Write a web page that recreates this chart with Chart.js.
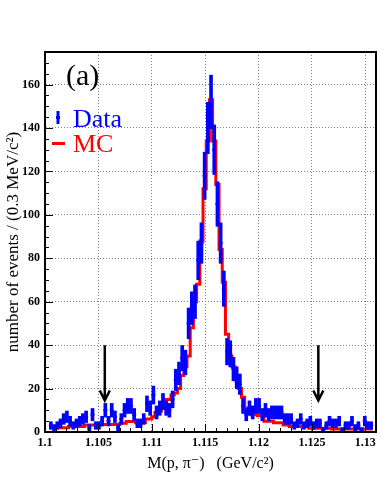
<!DOCTYPE html>
<html>
<head>
<meta charset="utf-8">
<script src="https://cdn.jsdelivr.net/npm/chart.js@4.4.0/dist/chart.umd.min.js"></script>
<style>
  html, body { margin: 0; padding: 0; background: #fff; }
  #wrap { width: 382px; height: 494px; }
</style>
</head>
<body>
<div id="wrap"><canvas id="lambdaMass" width="382" height="494"></canvas></div>
<script>
// histogram binning (GeV/c^2), 0.3 MeV/c^2 per bin
const binStart = 1.1004;
const binWidth = 0.0003;

// data events per bin
const dataCounts = [
  3, 2, 3, 4, 6, 7, 5, 3, 4, 5,
  6, 7, 2, 8, 3, 3, 5, 10, 5, 10,
  7, 2, 6, 10, 12, 12, 8, 4, 4, 6,
  13, 11, 17, 9, 11, 14, 11, 10, 15, 24,
  27, 34, 32, 50, 57, 60, 79, 87, 118, 140,
  152, 130, 105, 87, 66, 37, 36, 29, 25, 22,
  12, 8, 11, 9, 12, 12, 8, 10, 8, 9,
  9, 9, 9, 6, 6, 6, 3, 4, 6, 3,
  4, 5, 3, 4, 4, 1, 3, 5, 4, 4,
  5, 1, 3, 3, 5, 2, 3, 1, 5, 3, 3
];

// MC (normalised) per bin
const mcCounts = [
  2, 2, 2, 2, 2, 2, 2.5, 2.5, 2.5, 2.5,
  2.5, 3.2, 3.2, 3.2, 3.2, 3.2, 3.5, 3.5, 3.5, 3.5,
  3.5, 3.5, 4, 4, 4.8, 4.8, 4.8, 4.3, 4.3, 4.3,
  6, 6, 7, 9, 9.5, 11, 15, 15, 17, 18,
  20, 26, 30, 35, 48, 60, 68, 88, 112, 134,
  153, 134, 114, 84, 69, 45, 35, 30, 24, 20,
  16, 11, 9, 8, 8, 7.5, 7.5, 5, 5, 5,
  4.3, 4.3, 4.3, 3.2, 3.2, 2.5, 2.5, 2.5, 2.5, 2.5,
  2.5, 1.7, 1.7, 1.7, 1.7, 1.7, 1.7, 1.7, 1.4, 1.4,
  1.4, 1.4, 1.4, 1.4, 1.4, 1.4, 1.4, 1.4, 1.4, 1.4, 1.4
];

const xTicks = [1.1, 1.105, 1.11, 1.115, 1.12, 1.125, 1.13];
const yTicks = [0, 20, 40, 60, 80, 100, 120, 140, 160];
const cutArrows = [1.1056, 1.1256]; // sideband limits shown by the arrows

const binCenters = dataCounts.map((_, i) => binStart + binWidth * (i + 0.5));

// step histogram for the MC: one point per left edge, plus the last right edge
const mcSteps = mcCounts.map((v, i) => ({ x: binStart + binWidth * i, y: v }));
mcSteps.push({ x: binStart + binWidth * mcCounts.length, y: mcCounts[mcCounts.length - 1] });

// data: vertical error bars (sqrt N) and a short horizontal marker
const dataErrors = dataCounts.map((n, i) => ({ x: binCenters[i], y: [n - Math.sqrt(n), n + Math.sqrt(n)] }));
const dataPoints = dataCounts.map((n, i) => ({ x: binCenters[i], y: n }));

const serif = '"Liberation Serif", "DejaVu Serif", serif';

// ROOT style frame, inner ticks, legend, label and arrows
const rootDecor = {
  id: 'rootDecor',
  afterDraw(chart) {
    const { ctx, chartArea: a, scales: { x, y } } = chart;
    ctx.save();

    // arrows
    ctx.strokeStyle = '#000';
    ctx.lineWidth = 2.5;
    cutArrows.forEach(v => {
      const px = x.getPixelForValue(v);
      const top = y.getPixelForValue(40);
      const tip = y.getPixelForValue(14.5);
      ctx.beginPath();
      ctx.moveTo(px, top);
      ctx.lineTo(px, tip);
      ctx.moveTo(px - 5, tip - 10);
      ctx.lineTo(px, tip);
      ctx.lineTo(px + 5, tip - 10);
      ctx.stroke();
    });

    // ticks inside the frame
    ctx.lineWidth = 1;
    ctx.beginPath();
    for (let v = 5; v < 175; v += 5) {
      const py = Math.round(y.getPixelForValue(v)) + 0.5;
      const len = v % 20 === 0 ? 8 : 4;
      ctx.moveTo(a.left, py);
      ctx.lineTo(a.left + len, py);
    }
    for (let k = 1; k <= 31; k++) {
      const px = Math.round(x.getPixelForValue(1.1 + k * 0.001)) + 0.5;
      const len = k % 5 === 0 ? 8 : 4;
      ctx.moveTo(px, a.bottom);
      ctx.lineTo(px, a.bottom - len);
    }
    ctx.stroke();

    // frame
    ctx.lineWidth = 2;
    ctx.strokeRect(a.left, a.top, a.right - a.left, a.bottom - a.top);

    // panel label
    ctx.fillStyle = '#000';
    ctx.font = '30px ' + serif;
    ctx.textBaseline = 'alphabetic';
    ctx.fillText('(a)', 66, 85);

    // legend
    ctx.strokeStyle = '#0000ff';
    ctx.lineWidth = 3;
    ctx.beginPath();
    ctx.moveTo(58, 111); ctx.lineTo(58, 124);
    ctx.moveTo(56, 117.5); ctx.lineTo(60, 117.5);
    ctx.stroke();
    ctx.fillStyle = '#0000ff';
    ctx.font = '26px ' + serif;
    ctx.fillText('Data', 73, 127);

    ctx.strokeStyle = '#ff0000';
    ctx.beginPath();
    ctx.moveTo(52, 143.5); ctx.lineTo(65, 143.5);
    ctx.stroke();
    ctx.fillStyle = '#ff0000';
    ctx.fillText('MC', 73, 152);

    ctx.restore();
  }
};

new Chart(document.getElementById('lambdaMass'), {
  type: 'bar',
  data: {
    datasets: [
      {
        type: 'line',
        label: 'Data',
        data: dataPoints,
        showLine: false,
        pointStyle: 'line',
        pointRadius: 2,
        pointBorderWidth: 2,
        borderColor: '#0000ff',
        backgroundColor: '#0000ff',
        order: 0,
      },
      {
        type: 'bar',
        label: 'Data errors',
        data: dataErrors,
        backgroundColor: '#0000ff',
        borderWidth: 0,
        barThickness: 3,
        order: 1,
      },
      {
        type: 'line',
        label: 'MC',
        data: mcSteps,
        stepped: true,
        borderColor: '#ff0000',
        borderWidth: 3,
        pointRadius: 0,
        fill: false,
        order: 2,
      },
    ],
  },
  options: {
    responsive: false,
    animation: false,
    events: [],
    layout: { padding: { top: 52, right: 2, left: 0, bottom: 0 } },
    plugins: {
      legend: { display: false },
      tooltip: { enabled: false },
    },
    scales: {
      x: {
        type: 'linear',
        min: 1.1,
        max: 1.131,
        offset: false,
        afterBuildTicks: s => { s.ticks = xTicks.map(v => ({ value: v })); },
        afterFit: s => { s.height = 62; },
        grid: { color: '#808080', lineWidth: 1, drawTicks: false, offset: false },
        border: { display: true, color: '#000', width: 2, dash: [1, 2] },
        ticks: {
          color: '#000',
          padding: 4,
          maxRotation: 0,
          autoSkip: false,
          font: { family: serif, size: 12, weight: 'bold' },
          callback: v => String(Number(v.toFixed(3))),
        },
        title: {
          display: true,
          text: 'M(p, \u03c0\u207b)   (GeV/c\u00b2)',
          color: '#000',
          font: { family: serif, size: 16 },
          padding: { top: 0, bottom: 21 },
        },
      },
      y: {
        min: 0,
        max: 175,
        afterBuildTicks: s => { s.ticks = yTicks.map(v => ({ value: v })); },
        afterFit: s => { s.width = 45; },
        grid: { color: '#808080', lineWidth: 1, drawTicks: false },
        border: { display: true, color: '#000', width: 2, dash: [1, 2] },
        ticks: {
          color: '#000',
          padding: 5,
          font: { family: serif, size: 12, weight: 'bold' },
        },
        title: {
          display: true,
          text: 'number of events / (0.3 MeV/c\u00b2)',
          color: '#000',
          font: { family: serif, size: 17 },
          padding: { top: 3, bottom: 0 },
        },
      },
    },
  },
  plugins: [rootDecor],
});
</script>
</body>
</html>
